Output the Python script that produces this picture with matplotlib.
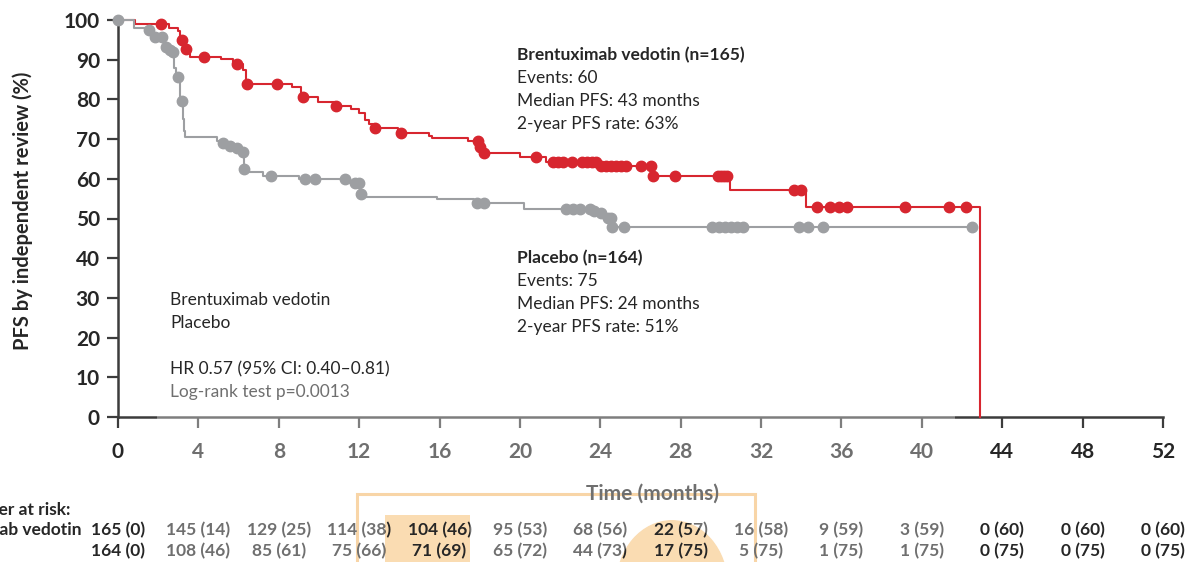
"""
KM plot: PFS by independent review, brentuximab vedotin vs placebo.
"""
import numpy as np
import matplotlib
matplotlib.use("Agg")
import matplotlib.pyplot as plt
from matplotlib.patches import Rectangle, Ellipse, PathPatch
from matplotlib.path import Path
from matplotlib.transforms import blended_transform_factory

plt.rcParams["font.family"] = ["Lato", "DejaVu Sans"]

# --- data ---
# step curves: time (months) of each drop and survival (%) after the drop
bv_t = [0, 0.85, 2.55, 3.0, 3.1, 3.3, 3.6, 5.15, 5.73, 6.2, 6.35, 8.64, 9.1, 9.95,
        10.8, 11.6, 12.0, 12.3, 12.5, 12.7, 13.95, 15.5, 15.6, 17.4, 17.95, 18.15,
        20.0, 21.3, 24.0, 26.55, 30.45, 34.25, 42.9]
bv_s = [100, 98.9, 98.1, 97.3, 95.0, 92.8, 90.8, 90.1, 88.9, 87.4, 84.0, 83.2, 80.6, 79.4,
        78.4, 77.5, 76.5, 74.8, 73.8, 72.8, 71.5, 70.9, 70.2, 69.5, 68.1, 66.5,
        65.5, 64.3, 63.1, 60.6, 57.2, 53.0, 0]
bv_cens = [2.14, 3.17, 3.38, 4.26, 5.9, 6.4, 7.9, 9.2, 10.85, 12.8, 14.1, 17.9, 18.0, 18.2,
           20.8, 21.65, 21.9, 22.15, 22.6, 23.1, 23.35, 23.6, 23.8, 24.05, 24.3, 24.55,
           24.8, 25.05, 25.3, 26.0, 26.5, 26.6, 27.7, 29.87, 30.0, 30.15, 30.3, 33.65,
           33.98, 34.8, 35.45, 35.87, 36.3, 39.15, 41.36, 42.2]

pl_t = [0, 0.8, 1.5, 1.75, 2.3, 2.5, 2.65, 2.78, 2.9, 3.1, 3.22, 3.28, 3.33, 4.94, 5.1,
        5.45, 5.85, 6.1, 6.25, 6.5, 7.2, 9.0, 11.55, 12.05, 12.35, 15.85, 17.7, 20.2,
        23.6, 23.95, 24.3, 24.58, 42.5]
pl_s = [100, 98.1, 97.5, 95.7, 93.3, 92.4, 91.9, 88.0, 85.7, 79.6, 75.0, 72.0, 70.5, 69.6,
        68.9, 68.3, 67.7, 66.8, 62.4, 61.6, 60.8, 60.0, 58.9, 56.1, 55.5, 54.8, 53.8,
        52.4, 51.9, 51.3, 50.2, 47.9, 47.9]
pl_cens = [0, 1.54, 1.84, 2.2, 2.37, 2.59, 2.72, 3.0, 3.17, 5.2, 5.57, 5.94, 6.2, 6.27,
           7.6, 9.3, 9.8, 11.3, 11.8, 12.0, 12.1, 17.85, 18.2, 22.3, 22.65, 23.0, 23.5,
           23.7, 24.05, 24.4, 24.55, 24.6, 25.2, 29.58, 29.9, 30.2, 30.5, 30.78, 31.1,
           33.9, 34.35, 35.1, 42.5]

x_ticks = [0, 4, 8, 12, 16, 20, 24, 28, 32, 36, 40, 44, 48, 52]
y_ticks = [0, 10, 20, 30, 40, 50, 60, 70, 80, 90, 100]
risk_bv = ["165 (0)", "145 (14)", "129 (25)", "114 (38)", "104 (46)", "95 (53)", "68 (56)",
           "22 (57)", "16 (58)", "9 (59)", "3 (59)", "0 (60)", "0 (60)", "0 (60)"]
risk_pl = ["164 (0)", "108 (46)", "85 (61)", "75 (66)", "71 (69)", "65 (72)", "44 (73)",
           "17 (75)", "5 (75)", "1 (75)", "1 (75)", "0 (75)", "0 (75)", "0 (75)"]

RED = "#d7262f"
GREY = "#9d9fa2"
DARK = "#262626"
W, H = 1188, 562


def step_val(t, s, x):
    i = np.searchsorted(t, x, side="right") - 1
    return np.asarray(s)[i]


fig = plt.figure(figsize=(W / 100, H / 100), dpi=100)
ax = fig.add_axes([118 / W, 1 - 417 / H, (1163 - 118) / W, (417 - 20) / H])
ax.patch.set_alpha(0)

ax.step(bv_t, bv_s, where="post", color=RED, lw=1.5, zorder=3, clip_on=False)
ax.plot(bv_cens, step_val(bv_t, bv_s, bv_cens), "o", color=RED, ms=7.5, zorder=4, clip_on=False)
ax.step(pl_t, pl_s, where="post", color=GREY, lw=1.5, zorder=3, clip_on=False)
ax.plot(pl_cens, step_val(pl_t, pl_s, pl_cens), "o", color=GREY, ms=7.5, zorder=4, clip_on=False)

ax.set_xlim(0, 52)
ax.set_ylim(0, 100)
ax.set_xticks(x_ticks)
ax.set_yticks(y_ticks)
ax.tick_params(axis="both", direction="out", length=8, width=1.6, color="#3c3c3c",
               labelsize=15, labelcolor=DARK)
ax.tick_params(axis="x", pad=10)
ax.tick_params(axis="y", pad=5)
for lab in ax.get_xticklabels() + ax.get_yticklabels():
    lab.set_fontweight("bold")
for side in ("top", "right"):
    ax.spines[side].set_visible(False)
for side in ("left", "bottom"):
    ax.spines[side].set_color("#3c3c3c")
    ax.spines[side].set_linewidth(1.8)

ax.set_ylabel("PFS by independent review (%)", fontsize=14.5, fontweight="bold", color=DARK)
ax.yaxis.set_label_coords((33 - 118) / (1163 - 118), 0.52)


def ftext(px, py, s, **kw):
    kw.setdefault("color", DARK)
    kw.setdefault("va", "center")
    fig.text(px / W, 1 - py / H, s, **kw)


# group summaries
ftext(517, 55, "Brentuximab vedotin (n=165)", fontsize=12.5, fontweight="bold")
for i, s in enumerate(["Events: 60", "Median PFS: 43 months", "2-year PFS rate: 63%"]):
    ftext(517, 78 + i * 23, s, fontsize=12.5)
ftext(517, 258, "Placebo (n=164)", fontsize=12.5, fontweight="bold")
for i, s in enumerate(["Events: 75", "Median PFS: 24 months", "2-year PFS rate: 51%"]):
    ftext(517, 281 + i * 23, s, fontsize=12.5)

ftext(170, 300, "Brentuximab vedotin", fontsize=12.5)
ftext(170, 323, "Placebo", fontsize=12.5)
ftext(170, 369, "HR 0.57 (95% CI: 0.40\u20130.81)", fontsize=12.5)
ftext(170, 392, "Log-rank test p=0.0013", fontsize=12.5)

ftext(652, 494, "Time (months)", fontsize=15, fontweight="bold", ha="center")

# number at risk (the labels run off the left edge, as in the source)
ftext(70, 510, "Number at risk:", fontsize=12.5, fontweight="bold", ha="right")
ftext(82, 530, "Brentuximab vedotin", fontsize=12.5, fontweight="bold", ha="right")
tr = blended_transform_factory(ax.transData, fig.transFigure)
for xv, a, b in zip(x_ticks, risk_bv, risk_pl):
    ax.text(xv, 1 - 530 / H, a, transform=tr, ha="center", va="center", fontsize=12.5,
            fontweight="bold", color=DARK, clip_on=False)
    ax.text(xv, 1 - 551 / H, b, transform=tr, ha="center", va="center", fontsize=12.5,
            fontweight="bold", color=DARK, clip_on=False)

# watermark: orange logo pieces under the text, washed-out band with holes on top
fig.patches.append(Rectangle((357 / W, -0.05), (755 - 357) / W, 0.05 + 1 - 494 / H,
                             transform=fig.transFigure, facecolor="none",
                             edgecolor="#f5c07a", lw=2.2, zorder=-2))
hole_a = (385, 470, 515)
fig.patches.append(Rectangle((hole_a[0] / W, 0), (hole_a[1] - hole_a[0]) / W, 1 - hole_a[2] / H,
                             transform=fig.transFigure, facecolor="#fadcb2",
                             edgecolor="none", zorder=-2))
ell_c, ell_w, ell_h = (672, 585), 112, 130
fig.patches.append(Ellipse((ell_c[0] / W, 1 - ell_c[1] / H), ell_w / W, ell_h / H,
                           transform=fig.transFigure, facecolor="#fadcb2",
                           edgecolor="none", zorder=-2))

x0, x1, y0, y1 = 157 / W, 955 / W, 0.0, 1 - 383 / H
verts = [(x0, y0), (x1, y0), (x1, y1), (x0, y1), (x0, y0)]
codes = [Path.MOVETO] + [Path.LINETO] * 3 + [Path.CLOSEPOLY]
ha0, ha1, hb1 = hole_a[0] / W, hole_a[1] / W, 1 - hole_a[2] / H
verts += [(ha0, 0), (ha0, hb1), (ha1, hb1), (ha1, 0), (ha0, 0)]
codes += [Path.MOVETO] + [Path.LINETO] * 3 + [Path.CLOSEPOLY]
ang = np.linspace(np.pi, 0, 60)  # clockwise sweep over the visible upper half
ex = (ell_c[0] + ell_w / 2 * np.cos(ang)) / W
ey = np.clip(1 - (ell_c[1] - ell_h / 2 * np.sin(ang)) / H, 0, None)
ell_pts = list(zip(ex, ey))
verts += ell_pts + [ell_pts[0]]
codes += [Path.MOVETO] + [Path.LINETO] * (len(ell_pts) - 1) + [Path.CLOSEPOLY]
fig.patches.append(PathPatch(Path(verts, codes), transform=fig.transFigure,
                             facecolor="white", alpha=0.34, edgecolor="none", zorder=10))

fig.savefig("out.png", dpi=100)
